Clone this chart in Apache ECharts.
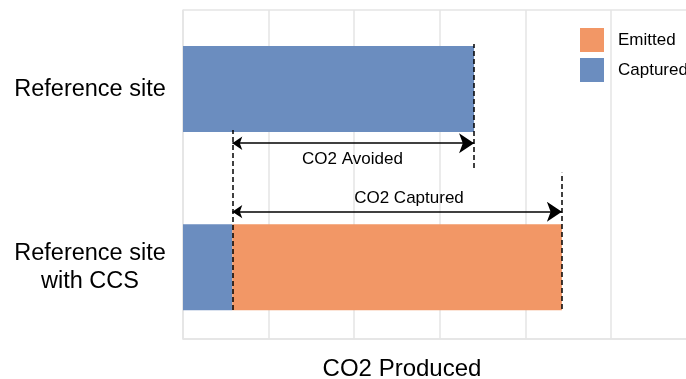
<!DOCTYPE html>
<html>
<head>
<meta charset="utf-8">
<script src="https://cdn.jsdelivr.net/npm/echarts@6/dist/echarts.min.js"></script>
<style>html,body{margin:0;padding:0;background:#fff;}#c{width:686px;height:379px;}</style>
</head>
<body>
<div id="c"></div>
<script>
var categories = ['Reference site', 'Reference site\nwith CCS'];
var capturedValues = [3.40, 0.576];
var emittedValues = ['-', 3.85];
var xMin = 0;
var xMaxVisible = 5.876;
var axisTitle = 'CO2 Produced';
var avoidedLabel = 'CO2 Avoided';
var capturedLabel = 'CO2 Captured';
// annotation vertical positions (in the frame's 0..1 value scale)
var dashA = [0.088, 0.635];
var dashB = [0.520, 0.897];
var dashC = [0.091, 0.505];
var arrowAvoidedY = 0.595;
var arrowCapturedY = 0.387;
var avoidedTextPos = [1.98, 0.547];
var capturedTextPos = [2.64, 0.429];

var blue = '#6b8dbf', orange = '#f29766', gridColor = '#e5e5e5';
var font = 'Liberation Sans, Arial, Helvetica, sans-serif';

var xStart = capturedValues[1];
var xRef = capturedValues[0];
var xEnd = capturedValues[1] + emittedValues[1];

var chart = echarts.init(document.getElementById('c'), null, {renderer: 'canvas'});
chart.setOption({
  animation: false,
  textStyle: {fontFamily: font},
  grid: [
    {left: 183, right: 0, top: 10, bottom: 40},
    {left: 183, right: 0, top: -2.75, bottom: 22.75}
  ],
  xAxis: [
    {gridIndex: 0, type: 'value', min: xMin, max: xMaxVisible, interval: 1,
     axisLine: {show: true, lineStyle: {color: gridColor, width: 1.5}}, axisTick: {show: false}, axisLabel: {show: false},
     splitLine: {show: true, showMaxLine: false, lineStyle: {color: gridColor, width: 1.5}}},
    {gridIndex: 1, type: 'value', min: xMin, max: xMaxVisible, interval: 1, show: false,
     splitLine: {show: false}}
  ],
  yAxis: [
    {gridIndex: 0, type: 'value', min: 0, max: 1, interval: 1,
     axisLine: {show: true, lineStyle: {color: gridColor, width: 1.5}}, axisTick: {show: false}, axisLabel: {show: false},
     splitLine: {show: true, lineStyle: {color: gridColor, width: 1.5}}},
    {gridIndex: 1, type: 'category', data: categories, inverse: true,
     axisLine: {show: false}, axisTick: {show: false}, splitLine: {show: false},
     axisLabel: {align: 'center', margin: 93, fontSize: 23.5, lineHeight: 28, color: '#000', fontFamily: font}}
  ],
  legend: {
    orient: 'vertical', left: 580, top: 28, padding: 0, itemGap: 6,
    itemWidth: 24, itemHeight: 24, icon: 'rect',
    data: ['Emitted', 'Captured'],
    textStyle: {fontSize: 17, color: '#000', fontFamily: font, padding: [0, 0, 0, 9]}
  },
  graphic: [
    {type: 'text', x: 402, y: 369, z: 10,
     style: {text: axisTitle, font: '24px ' + font, fill: '#000', align: 'center', verticalAlign: 'middle', textAlign: 'center', textVerticalAlign: 'middle'}}
  ],
  series: [
    {name: 'Captured', type: 'bar', xAxisIndex: 1, yAxisIndex: 1, stack: 's', barWidth: 86,
     itemStyle: {color: blue}, data: capturedValues},
    {name: 'Emitted', type: 'bar', xAxisIndex: 1, yAxisIndex: 1, stack: 's', barWidth: 86,
     itemStyle: {color: orange}, data: emittedValues},
    {type: 'lines', coordinateSystem: 'cartesian2d', xAxisIndex: 0, yAxisIndex: 0, z: 5,
     symbol: ['none', 'none'],
     lineStyle: {color: '#000', width: 1.5, type: [5, 3], opacity: 1},
     data: [
       {coords: [[xStart, dashA[0]], [xStart, dashA[1]]]},
       {coords: [[xRef, dashB[0]], [xRef, dashB[1]]]},
       {coords: [[xEnd, dashC[0]], [xEnd, dashC[1]]]}
     ]},
    {type: 'lines', coordinateSystem: 'cartesian2d', xAxisIndex: 0, yAxisIndex: 0, z: 5,
     symbol: ['arrow', 'arrow'], symbolSize: [10, 15],
     lineStyle: {color: '#000', width: 1.5, type: 'solid', opacity: 1},
     data: [
       {coords: [[xStart, arrowAvoidedY], [xRef, arrowAvoidedY]]},
       {coords: [[xStart, arrowCapturedY], [xEnd, arrowCapturedY]]}
     ]},
    {type: 'scatter', xAxisIndex: 0, yAxisIndex: 0, symbolSize: 0, z: 6, silent: true,
     itemStyle: {opacity: 1},
     label: {show: true, position: 'inside', formatter: '{b}', fontSize: 17, color: '#000', opacity: 1, fontFamily: font},
     data: [
       {name: avoidedLabel, value: avoidedTextPos},
       {name: capturedLabel, value: capturedTextPos}
     ]}
  ]
});
</script>
</body>
</html>
